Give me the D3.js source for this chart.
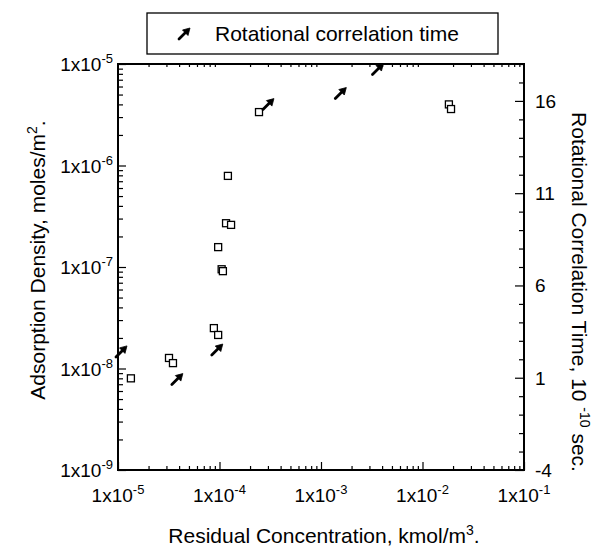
<!DOCTYPE html>
<html>
<head>
<meta charset="utf-8">
<script src="https://cdn.jsdelivr.net/npm/d3@7"></script>
<style>
  body { margin: 0; background: #fff; }
  text { font-family: "Liberation Sans", Arial, sans-serif; fill: #000; }
</style>
</head>
<body>
<div id="chart"></div>
<script>
// adsorption density (left axis), moles/m2
const adsX = [1.34e-5, 3.18e-5, 3.48e-5, 8.8e-5, 9.7e-5, 1.05e-4, 1.08e-4, 9.7e-5, 1.16e-4, 1.30e-4, 1.21e-4, 2.45e-4, 1.82e-2, 1.91e-2];
const adsY = [8.0e-9, 1.27e-8, 1.13e-8, 2.5e-8, 2.14e-8, 9.5e-8, 9.1e-8, 1.57e-7, 2.7e-7, 2.6e-7, 7.9e-7, 3.36e-6, 4.0e-6, 3.6e-6];

// rotational correlation time (right axis), 10^-10 sec
const rotX = [1.07e-5, 3.8e-5, 9.4e-5, 3.0e-4, 1.55e-3, 3.6e-3];
const rotY = [2.4, 0.9, 2.5, 15.8, 16.4, 17.7];

const xTicks = [-5, -4, -3, -2, -1];
const yLeftTicks = [-9, -8, -7, -6, -5];
const yRightTicks = [-4, 1, 6, 11, 16];

const W = 595, H = 550;
const plot = { left: 118, right: 524, top: 64, bottom: 470 };

const svg = d3.select("#chart").append("svg")
  .attr("width", W)
  .attr("height", H);

const x = d3.scaleLog().domain([1e-5, 1e-1]).range([plot.left, plot.right]);
const yL = d3.scaleLog().domain([1e-9, 1e-5]).range([plot.bottom, plot.top]);
const yR = d3.scaleLinear().domain([-4, 18]).range([plot.bottom, plot.top]);

// minor log ticks
function minors(lo, hi) {
  const out = [];
  for (let e = lo; e < hi; e++) {
    for (let m = 2; m <= 9; m++) out.push(m * Math.pow(10, e));
  }
  return out;
}

// bottom axis
svg.append("g")
  .attr("transform", `translate(0, ${plot.bottom})`)
  .call(d3.axisBottom(x).tickValues(xTicks.map(e => Math.pow(10, e))).tickSize(-8).tickFormat(""))
  .call(g => g.select(".domain").remove());
svg.append("g")
  .attr("transform", `translate(0, ${plot.bottom})`)
  .call(d3.axisBottom(x).tickValues(minors(-5, -1)).tickSize(-4).tickFormat(""))
  .call(g => g.select(".domain").remove());

// top mirror ticks
svg.append("g")
  .attr("transform", `translate(0, ${plot.top})`)
  .call(d3.axisTop(x).tickValues(minors(-5, -1)).tickSize(-3).tickFormat(""))
  .call(g => g.select(".domain").remove());

// left axis
svg.append("g")
  .attr("transform", `translate(${plot.left}, 0)`)
  .call(d3.axisLeft(yL).tickValues(yLeftTicks.map(e => Math.pow(10, e))).tickSize(-8).tickFormat(""))
  .call(g => g.select(".domain").remove());
svg.append("g")
  .attr("transform", `translate(${plot.left}, 0)`)
  .call(d3.axisLeft(yL).tickValues(minors(-9, -5)).tickSize(-5).tickFormat(""))
  .call(g => g.select(".domain").remove());

// right axis
svg.append("g")
  .attr("transform", `translate(${plot.right}, 0)`)
  .call(d3.axisRight(yR).tickValues(yRightTicks).tickSize(-9).tickFormat(""))
  .call(g => g.select(".domain").remove());
svg.append("g")
  .attr("transform", `translate(${plot.right}, 0)`)
  .call(d3.axisRight(yR).tickValues(d3.range(-3, 19).filter(v => !yRightTicks.includes(v))).tickSize(-5).tickFormat(""))
  .call(g => g.select(".domain").remove());

svg.selectAll(".tick line").attr("stroke", "#000").attr("stroke-width", 1.2);

// frame
svg.append("rect")
  .attr("x", plot.left).attr("y", plot.top)
  .attr("width", plot.right - plot.left).attr("height", plot.bottom - plot.top)
  .attr("fill", "none").attr("stroke", "#000").attr("stroke-width", 2);

// tick labels
function powLabel(sel) {
  sel.append("tspan").text("1x10");
  sel.append("tspan").attr("dy", -8).attr("font-size", 13).text(d => d);
}

svg.selectAll(".xlab").data(xTicks).enter().append("text")
  .attr("class", "xlab")
  .attr("x", d => x(Math.pow(10, d)))
  .attr("y", 502)
  .attr("text-anchor", "middle")
  .attr("font-size", 19)
  .call(powLabel);

svg.selectAll(".ylab").data(yLeftTicks).enter().append("text")
  .attr("class", "ylab")
  .attr("x", 113)
  .attr("y", d => yL(Math.pow(10, d)) + 7)
  .attr("text-anchor", "end")
  .attr("font-size", 19)
  .call(powLabel);

svg.selectAll(".rlab").data(yRightTicks).enter().append("text")
  .attr("class", "rlab")
  .attr("x", 535)
  .attr("y", d => yR(d) + 7)
  .attr("font-size", 19)
  .text(d => d);

// axis titles
const xt = svg.append("text")
  .attr("x", 324).attr("y", 543)
  .attr("text-anchor", "middle")
  .attr("font-size", 21);
xt.append("tspan").text("Residual Concentration, kmol/m");
xt.append("tspan").attr("dy", -8).attr("font-size", 14).text("3");
xt.append("tspan").attr("dy", 8).text(".");

const ylt = svg.append("text")
  .attr("transform", "translate(45, 260) rotate(-90)")
  .attr("text-anchor", "middle")
  .attr("font-size", 21);
ylt.append("tspan").text("Adsorption Density, moles/m");
ylt.append("tspan").attr("dy", -8).attr("font-size", 14).text("2");
ylt.append("tspan").attr("dy", 8).text(".");

const yrt = svg.append("text")
  .attr("transform", "translate(572, 292) rotate(90)")
  .attr("text-anchor", "middle")
  .attr("font-size", 21);
yrt.append("tspan").text("Rotational Correlation Time, 10 ");
yrt.append("tspan").attr("dy", -8).attr("font-size", 14).text("-10");
yrt.append("tspan").attr("dy", 8).text(" sec.");

// markers
const ads = adsX.map((v, i) => ({ x: v, y: adsY[i] }));
const rot = rotX.map((v, i) => ({ x: v, y: rotY[i] }));

svg.selectAll(".sq").data(ads).enter().append("rect")
  .attr("class", "sq")
  .attr("x", d => x(d.x) - 3.5)
  .attr("y", d => yL(d.y) - 3.5)
  .attr("width", 7).attr("height", 7)
  .attr("fill", "#fff")
  .attr("stroke", "#000")
  .attr("stroke-width", 1.3);

function drawArrow(sel) {
  sel.append("path")
    .attr("d", "M-5,5 L2,-2")
    .attr("stroke", "#000").attr("stroke-width", 2.8)
    .attr("stroke-linecap", "round");
  sel.append("path")
    .attr("d", "M6,-6 L-1.5,-4 L4,1.5 Z")
    .attr("fill", "#000").attr("stroke", "#000").attr("stroke-width", 0.8);
}

svg.selectAll(".arr").data(rot).enter().append("g")
  .attr("class", "arr")
  .attr("transform", d => `translate(${x(d.x)}, ${yR(d.y)})`)
  .call(drawArrow);

// legend
svg.append("rect")
  .attr("x", 147).attr("y", 13)
  .attr("width", 351).attr("height", 41)
  .attr("fill", "#fff").attr("stroke", "#000").attr("stroke-width", 1.3);
svg.append("g")
  .attr("transform", "translate(184, 34)")
  .call(drawArrow);
svg.append("text")
  .attr("x", 215).attr("y", 41)
  .attr("font-size", 21)
  .text("Rotational correlation time");
</script>
</body>
</html>
